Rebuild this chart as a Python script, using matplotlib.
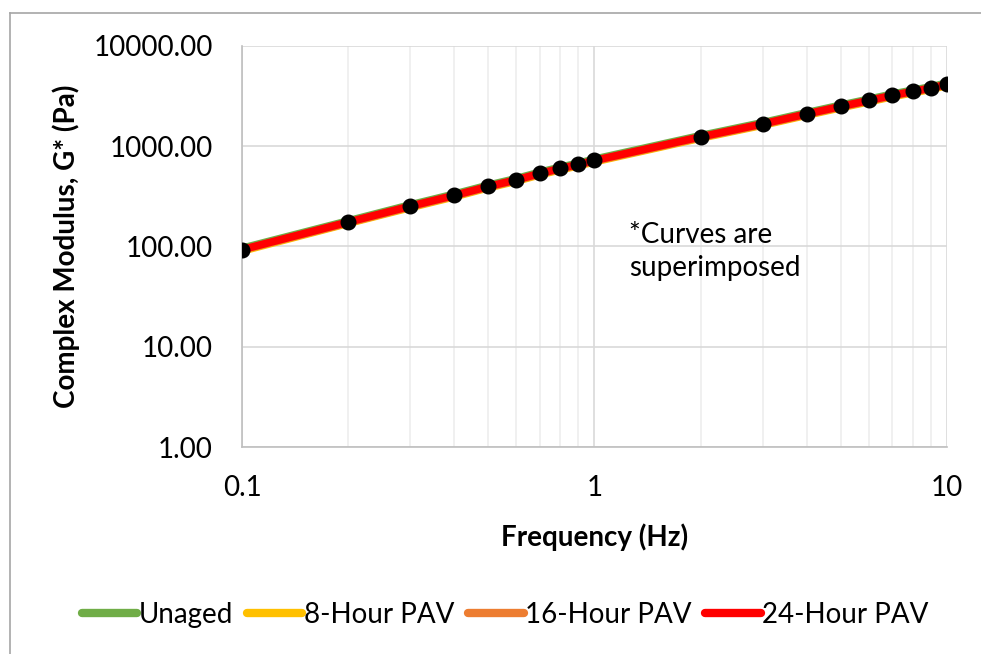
import matplotlib
matplotlib.use("Agg")
import matplotlib.pyplot as plt
from matplotlib.lines import Line2D
from matplotlib.ticker import FixedLocator, FuncFormatter, NullFormatter

plt.rcParams['font.family'] = ['Lato', 'DejaVu Sans']

# Frequency sweep (Hz)
freq = [0.1, 0.2, 0.3, 0.4, 0.5, 0.6, 0.7, 0.8, 0.9, 1.0,
        2, 3, 4, 5, 6, 7, 8, 9, 10]

# Complex modulus G* (Pa) for each aging condition
unaged = [96, 180, 260, 333, 409, 476, 551, 618, 678, 743,
          1277, 1720, 2163, 2570, 2946, 3311, 3626, 3914, 4275]
pav_8h = [90, 170, 244, 313, 385, 448, 519, 582, 638, 699,
          1203, 1620, 2037, 2420, 2774, 3119, 3414, 3686, 4026]
pav_16h = [92, 172, 248, 318, 391, 455, 527, 591, 648, 710,
           1221, 1645, 2069, 2458, 2817, 3167, 3467, 3743, 4088]
pav_24h = [93, 175, 252, 323, 397, 462, 535, 600, 658, 721,
           1240, 1670, 2100, 2495, 2860, 3215, 3520, 3800, 4150]

series_names = ["Unaged", "8-Hour PAV", "16-Hour PAV", "24-Hour PAV"]
series_colors = ["#70ad47", "#ffc000", "#ed7d31", "#ff0000"]
series_values = [unaged, pav_8h, pav_16h, pav_24h]

y_ticks = [1, 10, 100, 1000, 10000]
x_ticks = [0.1, 1, 10]
x_minor = [0.2, 0.3, 0.4, 0.5, 0.6, 0.7, 0.8, 0.9, 2, 3, 4, 5, 6, 7, 8, 9]

FS = 20

fig = plt.figure(figsize=(9.81, 6.54), dpi=100)
ax = fig.add_axes([0.2467, 0.3165, 0.7186, 0.6132])

for name, color, vals in zip(series_names, series_colors, series_values):
    ax.plot(freq, vals, color=color, lw=5.5, solid_capstyle='round',
            label=name, zorder=3)
ax.plot(freq, pav_24h, linestyle='none', marker='o', ms=10.5,
        color='black', zorder=5)

ax.set_xscale('log')
ax.set_yscale('log')
ax.set_xlim(0.1, 10)
ax.set_ylim(1, 10000)

ax.yaxis.set_major_locator(FixedLocator(y_ticks))
ax.yaxis.set_major_formatter(FuncFormatter(lambda v, p: f"{v:.2f}"))
ax.yaxis.set_minor_locator(FixedLocator([]))
ax.xaxis.set_major_locator(FixedLocator(x_ticks))
ax.xaxis.set_major_formatter(FuncFormatter(lambda v, p: f"{v:g}"))
ax.xaxis.set_minor_locator(FixedLocator(x_minor))
ax.xaxis.set_minor_formatter(NullFormatter())

ax.tick_params(which='both', length=0, labelsize=FS, colors='black')
ax.tick_params(axis='x', pad=20)
ax.tick_params(axis='y', pad=21)

ax.grid(True, which='major', axis='both', color='#d9d9d9', lw=1.2, zorder=0)
ax.grid(True, which='minor', axis='x', color='#eeeeee', lw=1.2, zorder=0)
ax.set_axisbelow(True)

for side in ['top', 'right']:
    ax.spines[side].set_visible(False)
for side in ['left', 'bottom']:
    ax.spines[side].set_color('#bfbfbf')
    ax.spines[side].set_linewidth(1.2)

ax.set_xlabel("Frequency (Hz)", fontsize=FS, fontweight='bold', labelpad=16)
ax.set_ylabel("Complex Modulus, G* (Pa)", fontsize=FS, fontweight='bold',
              labelpad=10)

ax.text(1.257, 89, "*Curves are\nsuperimposed", fontsize=FS,
        ha='left', va='center', linespacing=1.35)

handles = [Line2D([0], [0], color=c, lw=6, solid_capstyle='round')
           for c in series_colors]
fig.legend(handles, series_names, loc='center', bbox_to_anchor=(0.515, 0.060),
           ncol=4, frameon=False, fontsize=FS, handlelength=2.0,
           handletextpad=0.05, columnspacing=0.5)

# outer chart frame (left and top edges)
fig.add_artist(Line2D([0.0102, 0.0102], [0.0, 0.980], color='#a6a6a6',
                      lw=1.2, transform=fig.transFigure))
fig.add_artist(Line2D([0.0102, 1.0], [0.980, 0.980], color='#a6a6a6',
                      lw=1.2, transform=fig.transFigure))

fig.savefig("out.png", dpi=100, facecolor='white')
